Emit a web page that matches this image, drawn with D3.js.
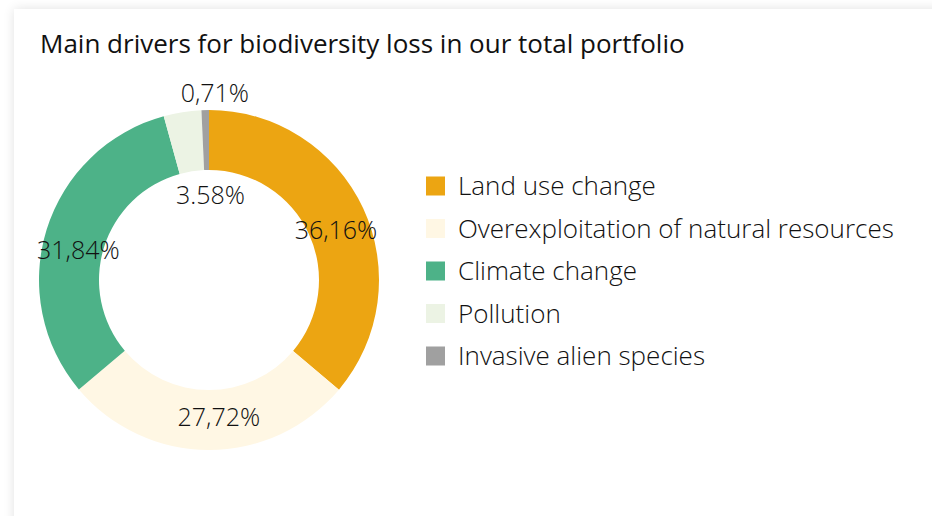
<!DOCTYPE html>
<html>
<head>
<meta charset="utf-8">
<script src="https://cdn.jsdelivr.net/npm/d3@7"></script>
<style>
  html, body { margin: 0; padding: 0; background: #fff; }
  svg { display: block; font-family: "Open Sans", Lato, sans-serif; }
</style>
</head>
<body>
<div id="chart"></div>
<script>
// data
var categories = ["Land use change", "Overexploitation of natural resources", "Climate change", "Pollution", "Invasive alien species"];
var values = [36.16, 27.72, 31.84, 3.58, 0.71];
var labels = ["36,16%", "27,72%", "31,84%", "3.58%", "0,71%"];
var colors = ["#eca512", "#fff7e4", "#4db288", "#ecf3e4", "#a0a0a0"];

var width = 932, height = 516;

var svg = d3.select("#chart").append("svg")
    .attr("width", width)
    .attr("height", height);

var defs = svg.append("defs");
var shadow = defs.append("filter").attr("id", "shadow")
    .attr("x", "-10%").attr("y", "-10%").attr("width", "120%").attr("height", "120%");
shadow.append("feGaussianBlur").attr("in", "SourceAlpha").attr("stdDeviation", 6);
shadow.append("feComponentTransfer").append("feFuncA").attr("type", "linear").attr("slope", 0.12);
var merge = shadow.append("feMerge");
merge.append("feMergeNode");
merge.append("feMergeNode").attr("in", "SourceGraphic");

// card
svg.append("rect")
    .attr("x", 14).attr("y", 9)
    .attr("width", width + 40).attr("height", height + 40)
    .attr("fill", "#fff")
    .attr("filter", "url(#shadow)");

svg.append("text")
    .attr("x", 40).attr("y", 53)
    .attr("font-size", 26)
    .attr("fill", "#111")
    .text("Main drivers for biodiversity loss in our total portfolio");

// donut
var cx = 209, cy = 280, outerR = 170, innerR = 110;

var pie = d3.pie().sort(null).value(function(d) { return d; });
var arcs = pie(values);

var arc = d3.arc().innerRadius(innerR).outerRadius(outerR);

var g = svg.append("g").attr("transform", "translate(" + cx + "," + cy + ")");

g.selectAll("path")
    .data(arcs)
    .enter().append("path")
    .attr("d", arc)
    .attr("fill", function(d, i) { return colors[i]; });

// label placement: big slices on the ring, small ones moved in/out of it
var labelPlace = [
    {r: 140, dx: 0, dy: 9},
    {r: 140, dx: 10, dy: -3},
    {r: 140, dx: 3, dy: 12},
    {r: 86, dx: 15, dy: 0},
    {r: 187, dx: 10, dy: 0}
];

g.selectAll("text.lbl")
    .data(arcs)
    .enter().append("text")
    .attr("class", "lbl")
    .attr("transform", function(d, i) {
        var p = labelPlace[i];
        var c = d3.arc().innerRadius(p.r).outerRadius(p.r).centroid(d);
        return "translate(" + (c[0] + p.dx) + "," + (c[1] + p.dy) + ")";
    })
    .attr("text-anchor", "middle")
    .attr("dy", "0.35em")
    .attr("font-size", 25)
    .attr("font-weight", 300)
    .attr("fill", "#111")
    .text(function(d, i) { return labels[i]; });

// legend
var legY = d3.scalePoint().domain(categories).range([186, 356]);

var leg = svg.append("g").selectAll("g")
    .data(categories)
    .enter().append("g")
    .attr("transform", function(d) { return "translate(426," + legY(d) + ")"; });

leg.append("rect")
    .attr("x", 0).attr("y", -9.5)
    .attr("width", 19).attr("height", 19)
    .attr("fill", function(d, i) { return colors[i]; });

leg.append("text")
    .attr("x", 32)
    .attr("dy", "0.35em")
    .attr("font-size", 26)
    .attr("font-weight", 300)
    .attr("fill", "#111")
    .text(function(d) { return d; });
</script>
</body>
</html>
